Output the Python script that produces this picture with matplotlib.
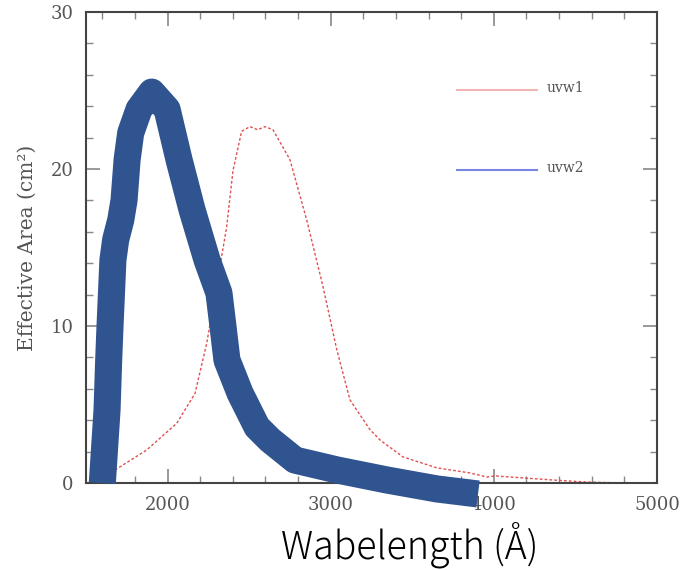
import matplotlib
matplotlib.use("Agg")
import matplotlib.pyplot as plt
from matplotlib.ticker import MultipleLocator

# uvw1 effective area curve (red, dotted)
uvw1_wave = [1678, 1872, 2056, 2168, 2240, 2321, 2362, 2401, 2454, 2505, 2552, 2597,
             2646, 2750, 2853, 2953, 3037, 3118, 3159, 3241, 3302, 3443, 3652, 3854,
             3958, 4007, 4363, 4571, 4816]
uvw1_area = [0.83, 2.1, 3.8, 5.7, 8.9, 13.8, 16.3, 19.9, 22.4, 22.7, 22.5, 22.7,
             22.5, 20.6, 16.75, 12.5, 8.5, 5.3, 4.65, 3.4, 2.74, 1.66, 0.96, 0.64,
             0.38, 0.45, 0.19, 0.06, 0.0]

# uvw2 effective area curve (hand-drawn thick blue)
uvw2_wave = [1600, 1629, 1639, 1647, 1665, 1682, 1713, 1733, 1752, 1774, 1825, 1903,
             1997, 2070, 2150, 2242, 2315, 2340, 2364, 2444, 2548, 2628, 2781, 3039,
             3345, 3652, 3903]
uvw2_area = [0.0, 4.65, 7.83, 9.94, 14.2, 15.5, 16.75, 18.0, 20.6, 22.3, 23.8, 24.9,
             23.8, 20.6, 17.4, 14.2, 12.1, 9.94, 7.83, 5.73, 3.57, 2.74, 1.46, 0.83,
             0.19, -0.38, -0.70]

x_ticks = [2000, 3000, 4000, 5000]
y_ticks = [0, 10, 20, 30]
legend_labels = ["uvw1", "uvw2"]

fig = plt.figure(figsize=(6.92, 5.70), dpi=100)
ax = fig.add_axes([86/692, 87/570, 571/692, 471/570])

ax.plot(uvw1_wave, uvw1_area, color="#E05050", lw=1.0, ls=(0, (2, 1.5)), zorder=2)
ax.plot(uvw2_wave, uvw2_area, color="#2F5490", lw=19.5, solid_capstyle="butt",
        solid_joinstyle="round", clip_on=False, zorder=5)

ax.set_xlim(1500, 5000)
ax.set_ylim(0, 30)
ax.set_xticks(x_ticks)
ax.set_yticks(y_ticks)
ax.xaxis.set_minor_locator(MultipleLocator(200))
ax.yaxis.set_minor_locator(MultipleLocator(2))
ax.tick_params(which="both", direction="in", top=True, right=True, colors="#888888",
               labelcolor="#555555")
ax.tick_params(which="major", length=10, width=1.2, labelsize=13, pad=9)
ax.tick_params(which="minor", length=5, width=1.0)
for lab in ax.get_xticklabels() + ax.get_yticklabels():
    lab.set_family("DejaVu Serif")
for s in ax.spines.values():
    s.set_color("#444444")
    s.set_linewidth(1.5)

ax.set_ylabel("Effective Area (cm²)", family="DejaVu Serif", fontsize=14.5,
              color="#555555", labelpad=10)
fig.text(410/692, 1 - 545/570, "Wabelength (Å)", family=["Noto Sans CJK JP", "DejaVu Sans"],
         fontsize=27, fontweight="light", color="black", ha="center", va="center")

# legend-like annotation
leg_colors = ["#F2B4B4", "#7888E0"]
leg_y = [0.834, 0.665]
for lab, c, yy in zip(legend_labels, leg_colors, leg_y):
    ax.plot([0.650, 0.790], [yy, yy], transform=ax.transAxes, color=c, lw=1.5, zorder=3)
    ax.text(0.806, yy + 0.004, lab, transform=ax.transAxes, family="DejaVu Serif",
            fontsize=10, color="#555555", va="center", ha="left")

fig.savefig("out.png", dpi=100)
